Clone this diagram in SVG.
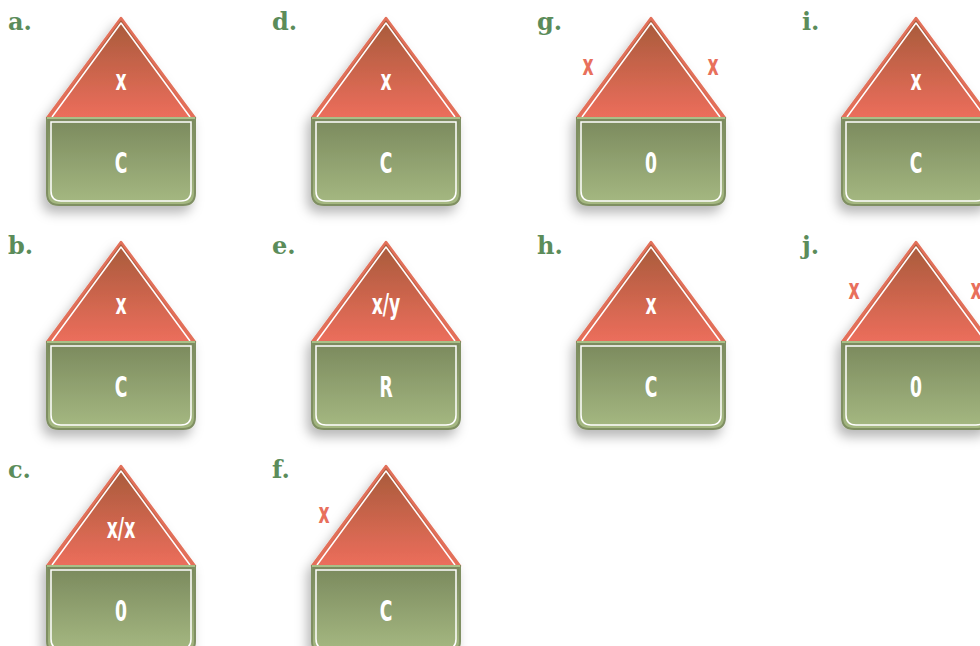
<svg xmlns="http://www.w3.org/2000/svg" width="980" height="646" viewBox="0 0 980 646">
<style>
.lbl{font-family:"DejaVu Serif","Liberation Serif",serif;font-weight:bold;font-size:24px;fill:#5b8c5a}
.t{font-family:"DejaVu Sans Condensed","DejaVu Sans","Liberation Sans",sans-serif;font-weight:bold;font-size:29px;fill:#ffffff;text-anchor:middle}
.s{font-family:"DejaVu Sans Condensed","DejaVu Sans","Liberation Sans",sans-serif;font-weight:bold;font-size:29px;fill:#e8705c;text-anchor:middle}
</style>
<defs>
<linearGradient id="gt" x1="0" y1="0" x2="0" y2="1">
<stop offset="0" stop-color="#a65a3a"/>
<stop offset="1" stop-color="#ec6e5c"/>
</linearGradient>
<linearGradient id="gr" x1="0" y1="0" x2="0" y2="1">
<stop offset="0" stop-color="#7a895d"/>
<stop offset="1" stop-color="#a6b982"/>
</linearGradient>
<filter id="sh" x="-30%" y="-20%" width="160%" height="150%">
<feDropShadow dx="-4" dy="7" stdDeviation="6" flood-color="#000" flood-opacity="0.28"/>
</filter>
<g id="house">
<path d="M0,0 L-74,100 L74,100 Z" fill="url(#gt)" stroke="#e2705a" stroke-width="2.5" stroke-linejoin="round"/>
<path d="M-69,99 L0,5 L69,99" fill="none" stroke="#ffffff" stroke-width="1.5" stroke-linejoin="round"/>
<path d="M-74,100 H74 V175 Q74,187 62,187 H-62 Q-74,187 -74,175 Z" fill="url(#gr)" stroke="#7f8f62" stroke-width="2"/>
<path d="M-74,100 H74" stroke="#a9c088" stroke-width="2"/>
<path d="M-70,104 H70 V173 Q70,183 60,183 H-60 Q-70,183 -70,173 Z" fill="none" stroke="#ffffff" stroke-width="1.5"/>
</g>
</defs>
<g id="node-a">
<text class="lbl" x="8" y="30">a.</text>
<use href="#house" x="121" y="18" filter="url(#sh)"/>
<text class="t" transform="translate(121,90) scale(0.66,1)">x</text>
<text class="t" transform="translate(121,173) scale(0.66,1)">C</text>
</g>
<g id="node-b">
<text class="lbl" x="8" y="254">b.</text>
<use href="#house" x="121" y="242" filter="url(#sh)"/>
<text class="t" transform="translate(121,314) scale(0.66,1)">x</text>
<text class="t" transform="translate(121,397) scale(0.66,1)">C</text>
</g>
<g id="node-c">
<text class="lbl" x="8" y="478">c.</text>
<use href="#house" x="121" y="466" filter="url(#sh)"/>
<text class="t" transform="translate(121,538) scale(0.66,1)">x/x</text>
<text class="t" transform="translate(121,621) scale(0.66,1)">0</text>
</g>
<g id="node-d">
<text class="lbl" x="272" y="30">d.</text>
<use href="#house" x="386" y="18" filter="url(#sh)"/>
<text class="t" transform="translate(386,90) scale(0.66,1)">x</text>
<text class="t" transform="translate(386,173) scale(0.66,1)">C</text>
</g>
<g id="node-e">
<text class="lbl" x="272" y="254">e.</text>
<use href="#house" x="386" y="242" filter="url(#sh)"/>
<text class="t" transform="translate(386,314) scale(0.66,1)">x/y</text>
<text class="t" transform="translate(386,397) scale(0.66,1)">R</text>
</g>
<g id="node-f">
<text class="lbl" x="272" y="478">f.</text>
<use href="#house" x="386" y="466" filter="url(#sh)"/>
<text class="s" transform="translate(324,523) scale(0.66,1)">x</text>
<text class="t" transform="translate(386,621) scale(0.66,1)">C</text>
</g>
<g id="node-g">
<text class="lbl" x="537" y="30">g.</text>
<use href="#house" x="651" y="18" filter="url(#sh)"/>
<text class="s" transform="translate(588,75) scale(0.66,1)">x</text>
<text class="s" transform="translate(713,75) scale(0.66,1)">x</text>
<text class="t" transform="translate(651,173) scale(0.66,1)">0</text>
</g>
<g id="node-h">
<text class="lbl" x="537" y="254">h.</text>
<use href="#house" x="651" y="242" filter="url(#sh)"/>
<text class="t" transform="translate(651,314) scale(0.66,1)">x</text>
<text class="t" transform="translate(651,397) scale(0.66,1)">C</text>
</g>
<g id="node-i">
<text class="lbl" x="802" y="30">i.</text>
<use href="#house" x="916" y="18" filter="url(#sh)"/>
<text class="t" transform="translate(916,90) scale(0.66,1)">x</text>
<text class="t" transform="translate(916,173) scale(0.66,1)">C</text>
</g>
<g id="node-j">
<text class="lbl" x="802" y="254">j.</text>
<use href="#house" x="916" y="242" filter="url(#sh)"/>
<text class="s" transform="translate(854,299) scale(0.66,1)">x</text>
<text class="s" transform="translate(976,299) scale(0.66,1)">x</text>
<text class="t" transform="translate(916,397) scale(0.66,1)">0</text>
</g>
<g id="connectors"></g>
</svg>
